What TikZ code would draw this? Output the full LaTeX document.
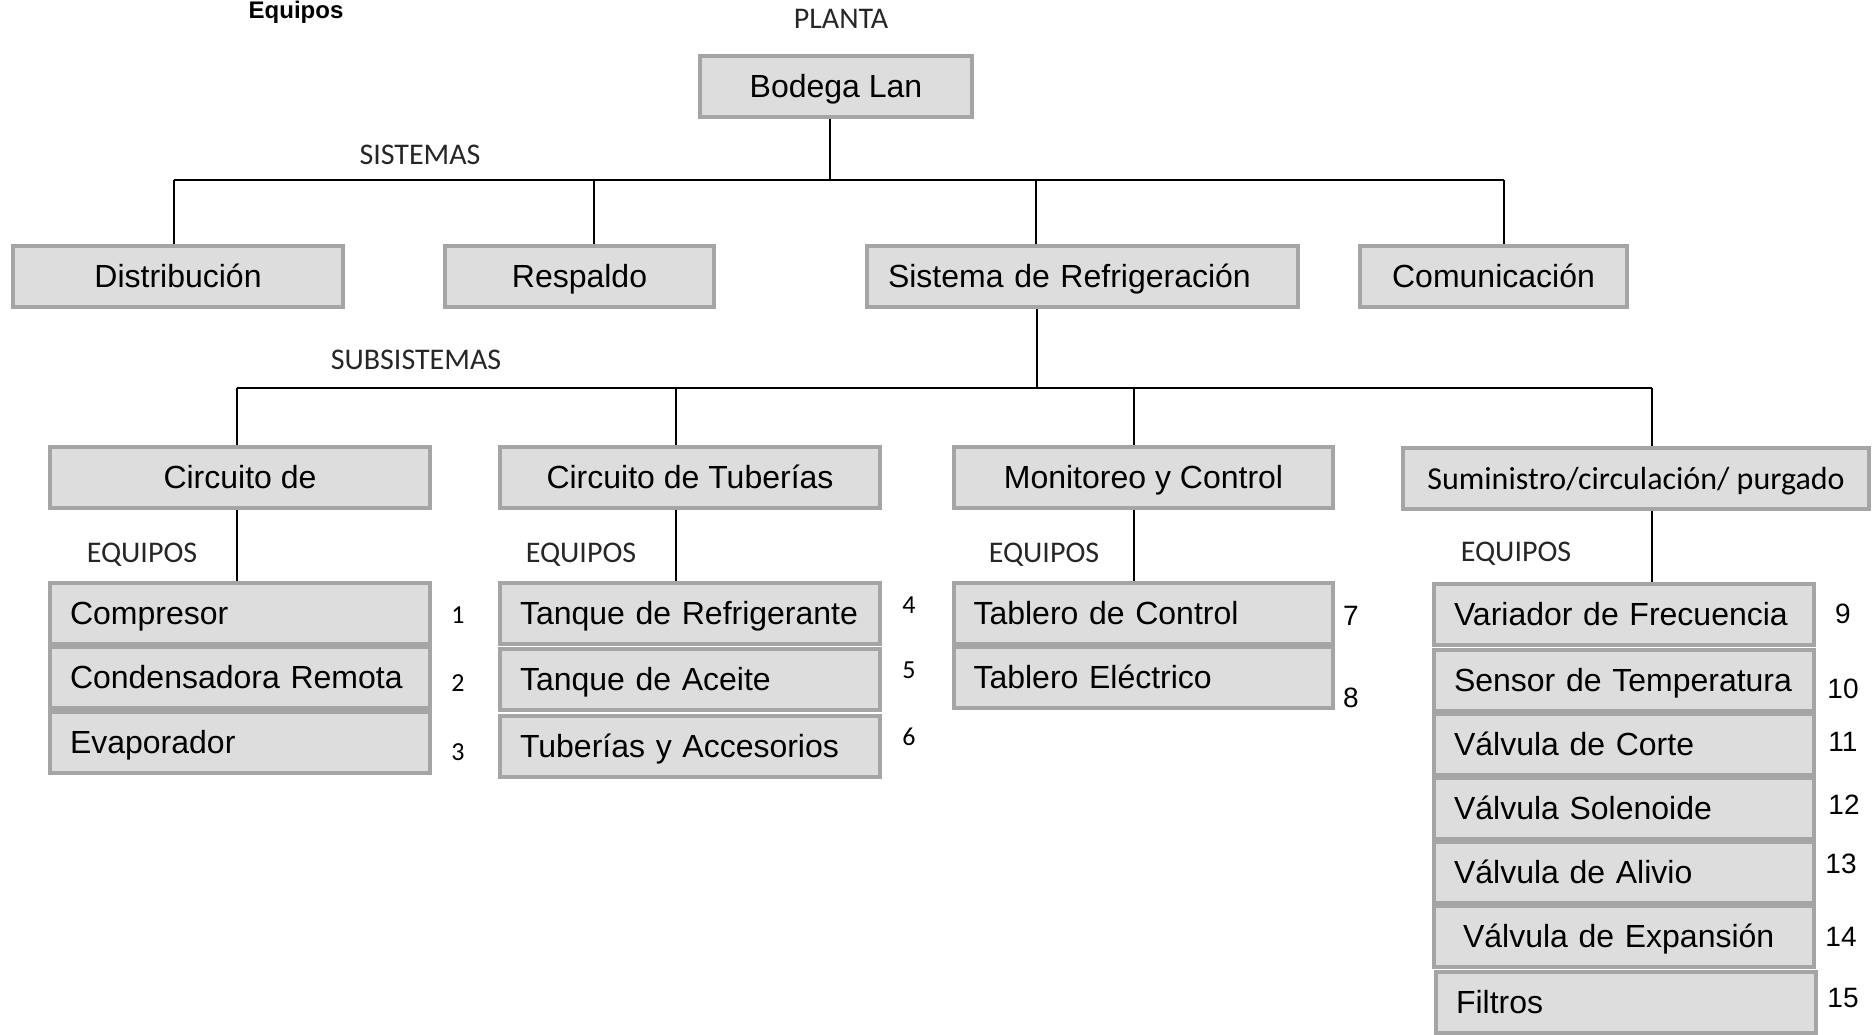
\documentclass[tikz,border=0pt]{standalone}
\usepackage{fontspec}
\setmainfont{Liberation Sans}
\newfontfamily\calib{Carlito}
\usepackage{tikz}
\usetikzlibrary{positioning,calc}
\definecolor{boxgray}{HTML}{DDDDDD}
\definecolor{edgegray}{HTML}{A5A5A5}
\definecolor{lbltext}{HTML}{262626}

\begin{document}
\begin{tikzpicture}[x=1pt,y=-1pt,
  font=\fontsize{32}{38}\selectfont,
  box/.style={draw=edgegray,fill=boxgray,line width=4pt,minimum height=61pt,
              text height=23pt,text depth=1pt,inner sep=0pt,align=center},
  eqbox/.style={box,minimum width=380pt,text width=340pt,align=left},
  lvl/.style={font=\calib\fontsize{30}{36}\selectfont,text=lbltext,inner sep=0pt},
  numc/.style={font=\calib\fontsize{26}{30}\selectfont,inner sep=0pt},
  numa/.style={font=\fontsize{28}{32}\selectfont,inner sep=0pt},
  link/.style={line width=2pt,draw=black}
]
\useasboundingbox (0,0) rectangle (1873,1034);
\node[font=\bfseries\fontsize{24}{28}\selectfont,inner sep=0pt] (ttl) at (296,12) {Equipos};
\node[lvl] (planta) at (841,19) {PLANTA};
\node[lvl] (sistemas) at (420,155) {SISTEMAS};
\node[lvl] (subsis) at (416,360) {SUBSISTEMAS};
\node[lvl] (eq1) at (142,555) {EQUIPOS};
\node[lvl] (eq2) at (581,555) {EQUIPOS};
\node[lvl] (eq3) at (1044,555) {EQUIPOS};
\node[lvl] (eq4) at (1516,554) {EQUIPOS};

\node[box,minimum width=272pt] (bod) at (836,86.5) {Bodega Lan};
\node[box,minimum width=330pt] (dist) at (178,276.5) {Distribución};
\node[box,minimum width=269pt] (resp) at (579.5,276.5) {Respaldo};
\node[box,minimum width=431pt,text width=389pt,align=left] (sis) at (1082.5,276.5) {Sistema de Refrigeración};
\node[box,minimum width=267pt] (com) at (1493.5,276.5) {Comunicación};

\node[box,minimum width=380pt] (circ) at (240,477) {Circuito de};
\node[box,minimum width=380pt] (tub) at (690,477) {Circuito de Tuberías};
\node[box,minimum width=379pt] (mon) at (1143.5,477) {Monitoreo y Control};
\node[box,minimum width=466pt,font=\calib\fontsize{32}{38}\selectfont] (sum) at (1636,478) {Suministro/circulación/ purgado};

\node[eqbox] (comp) at (240,613) {Compresor};
\node[eqbox] (cond) at (240,677.5) {Condensadora Remota};
\node[eqbox] (evap) at (240,742) {Evaporador};
\node[eqbox] (tanr) at (690,613.5) {Tanque de Refrigerante};
\node[eqbox] (tana) at (690,679.5) {Tanque de Aceite};
\node[eqbox] (tuba) at (690,746.5) {Tuberías y Accesorios};
\node[eqbox,minimum width=379pt] (tabc) at (1143.5,613.5) {Tablero de Control};
\node[eqbox,minimum width=379pt] (tabe) at (1143.5,677.5) {Tablero Eléctrico};
\node[eqbox] (var) at (1624,614.5) {Variador de Frecuencia};
\node[eqbox] (sen) at (1624,680) {Sensor de Temperatura};
\node[eqbox] (cor) at (1624,744.5) {Válvula de Corte};
\node[eqbox] (sol) at (1624,808.5) {Válvula Solenoide};
\node[eqbox] (ali) at (1624,872.5) {Válvula de Alivio};
\node[eqbox] (exp) at (1624,936.5) {\hspace*{9pt}Válvula de Expansión};
\node[eqbox] (fil) at (1626,1002) {Filtros};

\node[numc] (n1) at (458,615) {1};
\node[numc] (n2) at (458,683) {2};
\node[numc] (n3) at (458,752) {3};
\node[numc] (n4) at (909,605) {4};
\node[numc] (n5) at (909,670) {5};
\node[numc] (n6) at (909,737) {6};
\node[numa] (n7) at (1351,616) {7};
\node[numa] (n8) at (1351,698) {8};
\node[numa] (n9) at (1843,614) {9};
\node[numa] (n10) at (1843,689) {10};
\node[numa] (n11) at (1843,742) {11};
\node[numa] (n12) at (1844,805) {12};
\node[numa] (n13) at (1841,864) {13};
\node[numa] (n14) at (1841,937) {14};
\node[numa] (n15) at (1843,998) {15};

\coordinate (j0) at (830,180);
\coordinate (jd) at (174,180); \coordinate (jr) at (594,180);
\coordinate (js) at (1036,180); \coordinate (jc) at (1504,180);
\coordinate (k0) at (1037,388);
\coordinate (k1) at (237,388); \coordinate (k2) at (676,388);
\coordinate (k3) at (1134,388); \coordinate (k4) at (1652,388);
\draw[link] (bod.south -| j0) -- (j0); \draw[link] (jd) -- (jc);
\foreach \n/\j in {dist/jd,resp/jr,sis/js,com/jc} \draw[link] (\j) -- (\n.north -| \j);
\draw[link] (sis.south -| k0) -- (k0); \draw[link] (k1) -- (k4);
\foreach \n/\k in {circ/k1,tub/k2,mon/k3,sum/k4} \draw[link] (\k) -- (\n.north -| \k);
\foreach \a/\b/\k in {circ/comp/k1,tub/tanr/k2,mon/tabc/k3,sum/var/k4} \draw[link] (\a.south -| \k) -- (\b.north -| \k);
\end{tikzpicture}
\end{document}
